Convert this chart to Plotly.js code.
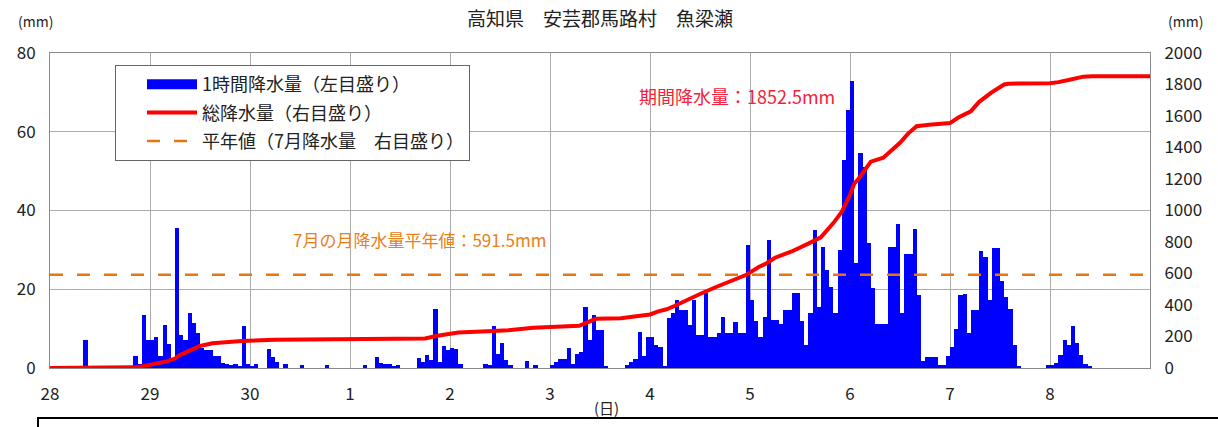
<!DOCTYPE html>
<html><head><meta charset="utf-8">
<script src="https://cdn.plot.ly/plotly-3.0.1.min.js"></script>
<style>html,body{margin:0;padding:0;background:#fff}#chart{width:1218px;height:427px}</style>
</head><body><div id="chart"></div>
<script>
// x-axis day labels (28 Jun .. 8 Jul)
const dayLabels = ['28','29','30','1','2','3','4','5','6','7','8'];

// hourly precipitation (mm), 24 values per day
const rain28 = [0,0,0,0,0,0,0,0,7,0,0,0,0,0,0,0,0,0,0,0,3,1,13.5,7];
const rain29 = [7,7.8,3,11,6,2,35.5,8.4,7,14,11.4,9,5,4.6,4.6,3,3,1.3,1,0.8,1,0.5,10.7,1];
const rain30 = [0.5,1,0,0,4.8,2.9,1.5,0,1,0,0,0,0.8,0,0,0,0,0,0.8,0,0,0,0,0];
const rain01 = [0,0,0,0.8,0,0,2.7,1.2,1,1,0.5,0.8,0,0,0,0,2.6,1.4,3.3,2,15,1.4,5.6,4.5];
const rain02 = [5,4.8,1,0,0,0,0,0,1,0.8,10.7,3.6,6.4,2,0.8,0,0,0,1.8,0,0.8,0,0,0];
const rain03 = [0.8,1.4,2.2,2.2,5,1,3.6,4,15.5,7,13.5,9.6,9.6,0.5,0,0,0,0,0.8,1.5,2.2,9.2,3,8];
const rain04 = [8,5.8,5.4,0.5,12.6,14,17.3,14.7,14.7,11,17.3,8.4,8.4,19,8,8,8.8,13,8.8,8.8,11.8,8.8,8.8,31.2];
const rain05 = [17.3,12,8,13,32.5,12.2,12.2,11.3,14.7,14.7,19,19,12,5.8,13.9,35,15.6,30.8,24.9,20.6,13.9,30,52.8,65.5];
const rain06 = [73,26.6,54.5,51,31.7,20.3,11.3,11.3,11.3,30.8,30.8,36.5,13.9,29,29,35.4,18.5,1.7,2.8,2.9,2.9,0.8,0.8,3];
const rain07 = [5.4,10,18.5,18.9,8.8,14.7,14.7,29.6,28.3,17.3,30.4,30.4,22,18.1,15,5.8,0.5,0,0,0,0,0,0,0.8];
const rain08 = [0.8,1.3,3.3,7.2,5.8,10.7,6.4,3.3,1,0.5,0,0,0,0,0,0,0,0,0,0,0,0,0,0];
const hourlyByDay = [rain28, rain29, rain30, rain01, rain02, rain03, rain04, rain05, rain06, rain07, rain08];

// cumulative precipitation (mm), at hours since 28th 00:00
const totalHours  = [0,8,9,20,22,24,26,28,30,31,33,36,39,46,54,84,90,93,96,98,105,110,116,125,127,129,131,137,141,144,146,148,150,152,154,156,160,164,167,170,172,174,178,182,185,188,190,192,193,194,196,197,200,202,204,206,208,211,216,218,221,223,226,229,230,240,242,245,248,250,264];
const totalValues = [0,0,3,4,10,20,30,42,60,80,104,140,157,171,180,184,188,205,220,226,234,240,255,262,268,290,312,316,328,340,360,373,395,421,445,470,516,555,590,640,665,700,740,790,830,920,990,1100,1170,1200,1275,1310,1335,1380,1430,1490,1535,1545,1555,1590,1630,1690,1750,1800,1805,1808,1815,1832,1850,1852.5,1852.5];

const normalJuly = 591.5;
const periodTotal = 1852.5;

const barX = [], barY = [];
hourlyByDay.forEach((arr, d) => arr.forEach((v, h) => { barX.push(d * 24 + h + 0.5); barY.push(v); }));
const tickVals = dayLabels.map((_, i) => i * 24);
const totalH = dayLabels.length * 24;

const FONT = '"Noto Sans CJK JP", "Noto Sans", sans-serif';
const px = x => (x - 50) / 1100;     // pixel -> paper x
const py = y => (368 - y) / 315;     // pixel -> paper y

const traces = [
  { type: 'bar', x: barX, y: barY, width: 1, marker: { color: '#0000ff', line: { width: 0 } },
    name: '1時間降水量（左目盛り）', showlegend: false, hoverinfo: 'x+y' },
  { type: 'scatter', mode: 'lines', x: [null], y: [null], name: '1時間降水量（左目盛り）',
    line: { color: '#0000ff', width: 12 }, legendgroup: 'a' },
  { type: 'scatter', mode: 'lines', x: totalHours, y: totalValues, yaxis: 'y2',
    name: '総降水量（右目盛り）', line: { color: '#ff0000', width: 4 }, legendgroup: 'b' },
  { type: 'scatter', mode: 'lines', x: [0, totalH], y: [normalJuly, normalJuly], yaxis: 'y2',
    name: '平年値（7月降水量　右目盛り）', line: { color: '#e8760f', width: 2.5, dash: '13px,14px' }, legendgroup: 'c' }
];

const layout = {
  width: 1218, height: 427,
  margin: { l: 50, r: 68, t: 53, b: 59 },
  paper_bgcolor: '#fff', plot_bgcolor: '#fff',
  font: { family: FONT, size: 16, color: '#222' },
  title: { text: '高知県　安芸郡馬路村　魚梁瀬', font: { size: 19, color: '#222' },
           x: 0.5, xref: 'paper', xanchor: 'center', y: 1 - 19 / 427, yref: 'container', yanchor: 'middle' },
  bargap: 0,
  xaxis: { range: [0, totalH], tickvals: tickVals, ticktext: dayLabels, showgrid: true, gridcolor: '#ababab',
           showline: true, mirror: true, linecolor: '#8a8a8a', zeroline: false,
           ticks: 'outside', ticklen: 11, tickcolor: 'rgba(0,0,0,0)', tickfont: { size: 17 } },
  yaxis: { range: [0, 80], tickvals: [0, 20, 40, 60, 80], showgrid: true, gridcolor: '#ababab',
           showline: true, mirror: true, linecolor: '#8a8a8a', zeroline: false,
           ticks: 'outside', ticklen: 10, tickcolor: 'rgba(0,0,0,0)', tickfont: { size: 17 } },
  yaxis2: { range: [0, 2000], dtick: 200, overlaying: 'y', side: 'right', showgrid: false, zeroline: false,
            ticks: 'outside', ticklen: 10, tickcolor: 'rgba(0,0,0,0)', tickfont: { size: 17 } },
  legend: { x: px(115), y: py(65), xanchor: 'left', yanchor: 'top', bgcolor: '#fff',
            bordercolor: '#666', borderwidth: 1, font: { size: 18 }, traceorder: 'grouped',
            tracegroupgap: 2, itemwidth: 50, indentation: 26 },
  annotations: [
    { text: '(mm)', xref: 'paper', yref: 'paper', x: px(35), y: py(21), xanchor: 'center', yanchor: 'middle',
      showarrow: false, font: { size: 14 } },
    { text: '(mm)', xref: 'paper', yref: 'paper', x: px(1185), y: py(21), xanchor: 'center', yanchor: 'middle',
      showarrow: false, font: { size: 14 } },
    { text: '期間降水量：' + periodTotal + 'mm', xref: 'paper', yref: 'paper', x: px(637), y: py(96),
      xanchor: 'left', yanchor: 'middle', showarrow: false, font: { size: 18, color: '#f5213a' } },
    { text: '7月の月降水量平年値：' + normalJuly + 'mm', xref: 'paper', yref: 'paper', x: px(291), y: py(239),
      xanchor: 'left', yanchor: 'middle', showarrow: false, font: { size: 17, color: '#e8801a' } },
    { text: ' ', xref: 'paper', yref: 'paper', x: px(37), y: py(417), xanchor: 'left', yanchor: 'top',
      width: 1220, height: 40, bgcolor: '#fff', bordercolor: '#000', borderwidth: 2, showarrow: false },
    { text: '(日)', xref: 'paper', yref: 'paper', x: px(606), y: py(407), xanchor: 'center', yanchor: 'middle',
      showarrow: false, font: { size: 15 } }
  ]
};

Plotly.newPlot('chart', traces, layout, { displayModeBar: false, staticPlot: true });
</script>
</body></html>
